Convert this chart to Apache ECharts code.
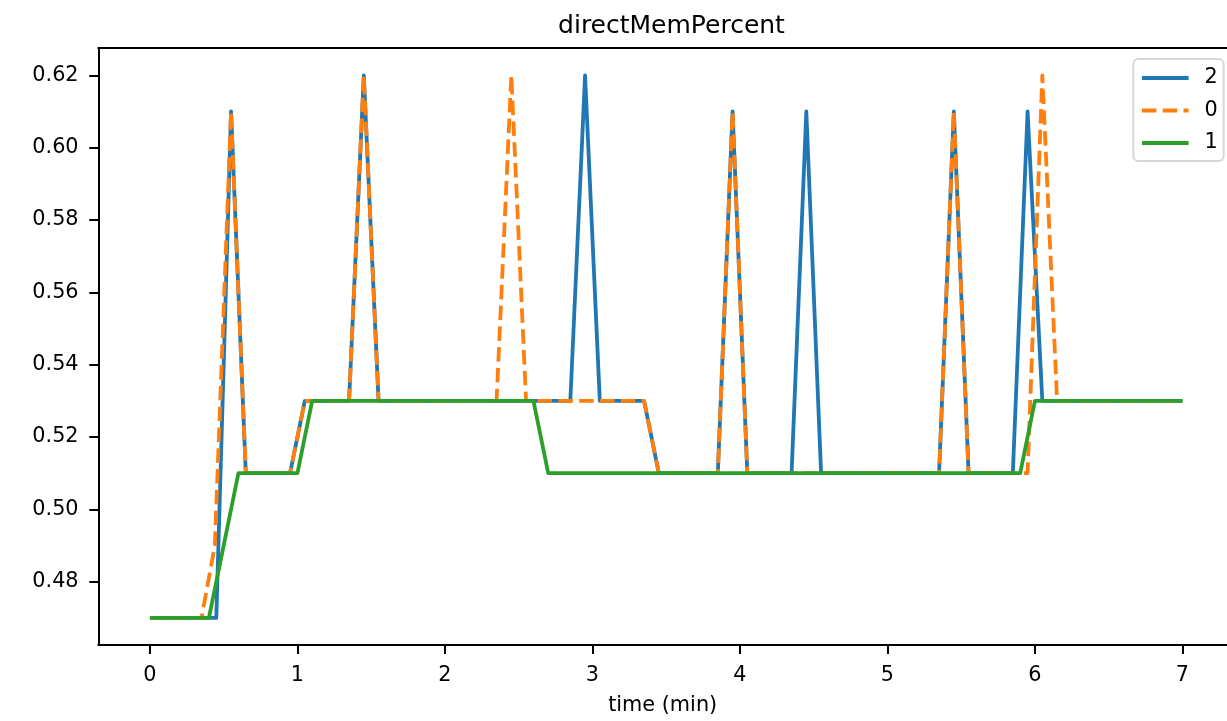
<!DOCTYPE html>
<html>
<head>
<meta charset="utf-8">
<script src="https://cdn.jsdelivr.net/npm/echarts@6/dist/echarts.min.js"></script>
<style>
html,body{margin:0;padding:0;background:#fff;}
#chart{width:1227px;height:721px;}
</style>
</head>
<body>
<div id="chart"></div>
<script>
// Series "2" (blue) vertices
const time2 = [0, 0.45, 0.55, 0.65, 0.95, 1.05, 1.35, 1.45, 1.55, 2.85, 2.95, 3.05, 3.35, 3.45, 3.85, 3.95, 4.05, 4.35, 4.45, 4.55, 5.35, 5.45, 5.55, 5.85, 5.95, 6.05, 7.0];
const mem2  = [0.47, 0.47, 0.61, 0.51, 0.51, 0.53, 0.53, 0.62, 0.53, 0.53, 0.62, 0.53, 0.53, 0.51, 0.51, 0.61, 0.51, 0.51, 0.61, 0.51, 0.51, 0.61, 0.51, 0.51, 0.61, 0.53, 0.53];
// Series "0" (orange, dashed) vertices
const time0 = [0, 0.35, 0.44, 0.55, 0.65, 0.95, 1.05, 1.35, 1.45, 1.55, 2.35, 2.45, 2.55, 3.35, 3.45, 3.85, 3.95, 4.05, 5.35, 5.45, 5.55, 5.95, 6.05, 6.15, 7.0];
const mem0  = [0.47, 0.47, 0.49, 0.61, 0.51, 0.51, 0.53, 0.53, 0.62, 0.53, 0.53, 0.62, 0.53, 0.53, 0.51, 0.51, 0.61, 0.51, 0.51, 0.61, 0.51, 0.51, 0.62, 0.53, 0.53];
// Series "1" (green) vertices
const time1 = [0, 0.4, 0.6, 1.0, 1.1, 2.6, 2.7, 5.9, 6.0, 7.0];
const mem1  = [0.47, 0.47, 0.51, 0.51, 0.53, 0.53, 0.51, 0.51, 0.53, 0.53];

const seriesNames = ['2', '0', '1'];
const xTicks = [0, 1, 2, 3, 4, 5, 6, 7];
const yTicks = [0.48, 0.50, 0.52, 0.54, 0.56, 0.58, 0.60, 0.62];

const FONT = 'DejaVu Sans';
const zip = (t, v) => t.map((x, i) => [x, v[i]]);

const chart = echarts.init(document.getElementById('chart'), null, {renderer: 'canvas'});
const lineBase = {type: 'line', symbol: 'none', showSymbol: false, animation: false};

chart.setOption({
  animation: false,
  backgroundColor: '#ffffff',
  title: {
    text: 'directMemPercent',
    left: 666.5,
    top: 9,
    textAlign: 'center',
    textStyle: {fontFamily: FONT, fontSize: 25, fontWeight: 'normal', color: '#000'}
  },
  legend: {
    data: seriesNames,
    orient: 'vertical',
    left: 1133.3,
    top: 59,
    itemWidth: 46.7,
    itemHeight: 20,
    itemGap: 11.5,
    padding: [8.5, 5.8, 7.5, 6.7],
    backgroundColor: '#fff',
    borderColor: '#d6d6d6',
    borderWidth: 2,
    borderRadius: 5,
    itemStyle: {opacity: 0},
    lineStyle: {width: 3.8},
    textStyle: {fontFamily: FONT, fontSize: 20.8, color: '#000', lineHeight: 20, padding: [0, 0, 0, 11]}
  },
  grid: {
    left: 98.3,
    top: 48.2,
    right: 0,
    bottom: 75.3,
    show: false
  },
  xAxis: [{
    type: 'value',
    min: -0.35,
    max: 7.302,
    name: 'time (min)',
    nameLocation: 'middle',
    nameGap: 50,
    nameTextStyle: {fontFamily: FONT, fontSize: 20.8, color: '#000'},
    splitLine: {show: false},
    axisLine: {show: true, onZero: false, lineStyle: {color: '#000', width: 2}},
    axisTick: {show: true, length: 9, lineStyle: {color: '#000', width: 2}, customValues: xTicks},
    axisLabel: {customValues: xTicks, margin: 20, fontFamily: FONT, fontSize: 20.8, color: '#000', formatter: v => String(v)}
  }, {
    type: 'value',
    position: 'top',
    min: -0.35,
    max: 7.302,
    splitLine: {show: false},
    axisLine: {show: true, onZero: false, lineStyle: {color: '#000', width: 2}},
    axisTick: {show: false},
    axisLabel: {show: false}
  }],
  yAxis: {
    type: 'value',
    min: 0.4625,
    max: 0.6275,
    splitLine: {show: false},
    axisLine: {show: true, onZero: false, lineStyle: {color: '#000', width: 2}},
    axisTick: {show: true, length: 9, lineStyle: {color: '#000', width: 2}, customValues: yTicks},
    axisLabel: {customValues: yTicks, margin: 19.7, padding: [4, 0, 0, 0], fontFamily: FONT, fontSize: 20.8, color: '#000', formatter: v => v.toFixed(2)}
  },
  series: [
    Object.assign({}, lineBase, {
      name: seriesNames[0], data: zip(time2, mem2), z: 2,
      itemStyle: {color: '#1f77b4'},
      lineStyle: {color: '#1f77b4', width: 3.8, join: 'round', cap: 'butt'}
    }),
    Object.assign({}, lineBase, {
      name: seriesNames[1], data: zip(time0, mem0), z: 3,
      itemStyle: {color: '#ff7f0e'},
      lineStyle: {color: '#ff7f0e', width: 3.8, type: [14.5, 6.3], join: 'round', cap: 'butt'}
    }),
    Object.assign({}, lineBase, {
      name: seriesNames[2], data: zip(time1, mem1), z: 4,
      itemStyle: {color: '#2ca02c'},
      lineStyle: {color: '#2ca02c', width: 3.8, join: 'round', cap: 'butt'}
    })
  ]
});
</script>
</body>
</html>
